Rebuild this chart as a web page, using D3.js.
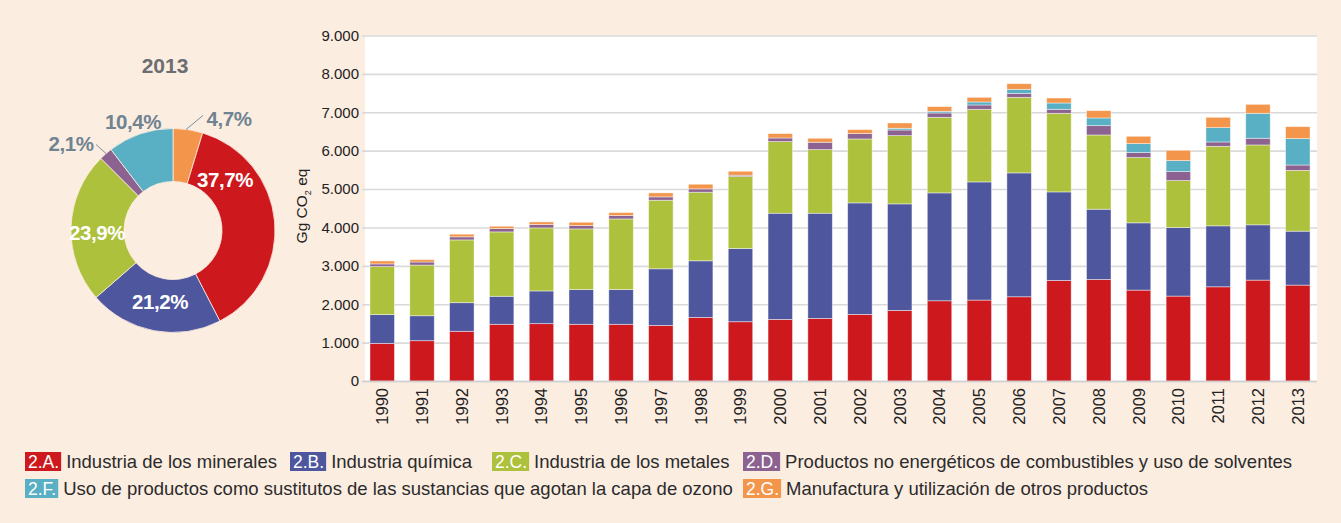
<!DOCTYPE html>
<html>
<head>
<meta charset="utf-8">
<script src="https://cdn.jsdelivr.net/npm/d3@7"></script>
<style>
  html, body { margin: 0; padding: 0; background: #fcede1; }
  svg { display: block; }
</style>
</head>
<body>
<svg id="chart" width="1341" height="523"></svg>
<script>
// Emisiones del sector IPPU, 1990-2013 (Gg CO2 eq)
const years = ["1990","1991","1992","1993","1994","1995","1996","1997","1998","1999","2000","2001",
               "2002","2003","2004","2005","2006","2007","2008","2009","2010","2011","2012","2013"];
const minerales  = [980,1050,1295,1477,1494,1477,1477,1448,1657,1544,1604,1630,1735,1839,2090,2108,2194,2619,2645,2368,2212,2454,2628,2498];
const quimica    = [750,650,745,730,852,904,904,1475,1474,1908,2767,2741,2905,2775,2810,3078,3227,2307,1830,1752,1786,1588,1440,1405];
const metales    = [1250,1320,1635,1677,1642,1581,1841,1786,1787,1873,1865,1657,1665,1778,1969,1891,1968,2047,1934,1700,1223,2072,2081,1584];
const productosNoEnerg = [70,80,80,86,87,87,87,87,86,35,95,191,139,147,113,113,104,104,243,130,234,113,174,139];
const sustitutos = [0,0,0,0,0,0,0,0,0,0,0,0,0,44,43,78,105,165,200,234,286,373,650,689];
const otros      = [78,60,70,61,69,87,78,104,122,104,113,104,104,139,122,121,147,130,190,191,269,269,234,311];

const yTicks = [0,1000,2000,3000,4000,5000,6000,7000,8000,9000];

// Participación 2013 (%)
const pieCodes  = ["2.G.","2.A.","2.B.","2.C.","2.D.","2.F."];
const pieShares = [4.7, 37.7, 21.2, 23.9, 2.1, 10.4];

const codes = ["2.A.","2.B.","2.C.","2.D.","2.F.","2.G."];
const names = ["Industria de los minerales","Industria química","Industria de los metales",
               "Productos no energéticos de combustibles y uso de solventes",
               "Uso de productos como sustitutos de las sustancias que agotan la capa de ozono",
               "Manufactura y utilización de otros productos"];
const colors = ["#cd181e","#4e569e","#adc13c","#8b6290","#59afc4","#f3964b"];

const series = [minerales, quimica, metales, productosNoEnerg, sustitutos, otros];
const colorOf = d3.scaleOrdinal().domain(codes).range(colors);

const svg = d3.select("#chart");
const W = 1341, H = 523;
svg.append("rect").attr("width", W).attr("height", H).attr("fill", "#fcede1");

const numFmt = d3.formatLocale({decimal: ",", thousands: ".", grouping: [3], currency: ["$",""]}).format(",d");
const FONT = "'Liberation Sans', Arial, sans-serif";

// ---- Stacked bars ----
const plot = {left: 365, right: 1317, top: 35.5, bottom: 381};
const x = d3.scaleBand().domain(years).range([plot.left - 1, plot.right - 1]).paddingInner(0.385).paddingOuter(0.15);
const y = d3.scaleLinear().domain([0, 9000]).range([plot.bottom, plot.top]);

svg.append("rect")
  .attr("x", plot.left).attr("y", plot.top)
  .attr("width", plot.right - plot.left).attr("height", plot.bottom - plot.top)
  .attr("fill", "#ffffff");

// grid + y axis
const yAxis = d3.axisLeft(y).tickValues(yTicks).tickFormat(numFmt)
  .tickSize(-(plot.right - plot.left + 3)).tickPadding(3);
const gy = svg.append("g").attr("transform", `translate(${plot.left - 3},0)`).call(yAxis);
gy.select(".domain").remove();
gy.selectAll(".tick line").attr("stroke", "#d9d9d9").attr("stroke-width", 1.6);
gy.selectAll(".tick text")
  .attr("fill", "#222")
  .style("font-family", FONT)
  .style("font-size", "15px");

const rows = years.map((yr, i) => {
  const r = {year: yr};
  codes.forEach((c, k) => r[c] = series[k][i]);
  return r;
});
const stacked = d3.stack().keys(codes)(rows);

svg.append("g").selectAll("g")
  .data(stacked).join("g")
  .attr("fill", d => colorOf(d.key))
  .selectAll("rect")
  .data(d => d).join("rect")
  .attr("x", d => x(d.data.year))
  .attr("y", d => y(d[1]))
  .attr("width", x.bandwidth())
  .attr("height", d => Math.max(0, y(d[0]) - y(d[1])))
  .attr("stroke", "rgba(255,255,255,0.55)")
  .attr("stroke-width", 0.8);

// baseline
svg.append("line")
  .attr("x1", plot.left - 3).attr("x2", plot.right)
  .attr("y1", plot.bottom + 0.5).attr("y2", plot.bottom + 0.5)
  .attr("stroke", "#cfcfcf").attr("stroke-width", 1.5);

// x axis (rotated years)
const gx = svg.append("g").attr("transform", `translate(0,${plot.bottom})`)
  .call(d3.axisBottom(x).tickSize(0).tickPadding(0));
gx.select(".domain").remove();
gx.selectAll(".tick text")
  .attr("transform", "rotate(-90)")
  .attr("x", -7).attr("y", 0).attr("dy", "0.36em")
  .style("text-anchor", "end")
  .attr("fill", "#222")
  .style("font-family", FONT)
  .style("font-size", "16.5px");

// y axis title
const yt = svg.append("text")
  .attr("transform", "translate(307,206) rotate(-90)")
  .attr("text-anchor", "middle")
  .attr("fill", "#222")
  .style("font-family", FONT)
  .style("font-size", "15.5px");
yt.append("tspan").text("Gg CO");
yt.append("tspan").attr("dy", 4).style("font-size", "9px").text("2");
yt.append("tspan").attr("dy", -4).text(" eq");

// ---- Donut 2013 ----
const cx = 173, cy = 230.5, rOut = 102, rIn = 49;
const pie = d3.pie().sort(null).value(d => d.v);
const arcs = pie(pieCodes.map((c, i) => ({code: c, v: pieShares[i]})));
const arc = d3.arc().innerRadius(rIn).outerRadius(rOut);
const donut = svg.append("g").attr("transform", `translate(${cx},${cy})`);
donut.selectAll("path").data(arcs).join("path")
  .attr("d", arc)
  .attr("fill", d => colorOf(d.data.code))
  .attr("stroke", "#fcede1").attr("stroke-width", 0.8);

svg.append("text").attr("x", 165).attr("y", 72.5)
  .attr("text-anchor", "middle").attr("fill", "#6d6e71")
  .style("font-family", FONT)
  .style("font-weight", "bold").style("font-size", "21px")
  .text("2013");

const pctFmt = v => d3.format(".1f")(v).replace(".", ",") + "%";
// label placement per slice: inside (white) or outside with leader line (grey)
const labelPos = {
  "2.A.": {dx: 52, dy: -44, inside: true},
  "2.B.": {dx: -13, dy: 78, inside: true},
  "2.C.": {dx: -76, dy: 9, inside: true},
  "2.D.": {dx: -102, dy: -80, inside: false, line: [[-77, -86], [-67, -77]]},
  "2.F.": {dx: -40, dy: -102, inside: false, line: null},
  "2.G.": {dx: 56, dy: -105, inside: false, line: [[13, -101], [30, -115]]}
};
arcs.forEach(a => {
  const p = labelPos[a.data.code];
  if (p.line) {
    donut.append("line")
      .attr("x1", p.line[0][0]).attr("y1", p.line[0][1])
      .attr("x2", p.line[1][0]).attr("y2", p.line[1][1])
      .attr("stroke", "#6f8391").attr("stroke-width", 0.9);
  }
  donut.append("text")
    .attr("x", p.dx).attr("y", p.dy)
    .attr("text-anchor", "middle")
    .attr("fill", p.inside ? "#ffffff" : "#6f8391")
    .style("font-family", FONT)
    .style("font-weight", "bold").style("font-size", "20.5px")
    .style("letter-spacing", "-0.4px")
    .text(pctFmt(a.data.v));
});

// ---- Legend ----
const legendLayout = [
  {x: 25, row: 0}, {x: 290, row: 0}, {x: 492, row: 0}, {x: 743, row: 0},
  {x: 25, row: 1}, {x: 743, row: 1}
];
const legend = svg.append("g");
codes.forEach((c, i) => {
  const L = legendLayout[i];
  const top = 452 + L.row * 27;
  const g = legend.append("g").attr("transform", `translate(${L.x},${top})`);
  const box = g.append("rect").attr("y", 0).attr("height", 19).attr("fill", colorOf(c));
  const t = g.append("text").attr("x", 3).attr("y", 15.5).attr("fill", "#ffffff")
    .style("font-family", FONT)
    .style("font-size", "17.5px").text(c);
  const bw = t.node().getComputedTextLength() + 5;
  box.attr("width", bw);
  g.append("text").attr("x", bw + 5).attr("y", 15.5).attr("fill", "#2b2b2b")
    .style("font-family", FONT)
    .style("font-size", "18.5px").text(names[i]);
});
</script>
</body>
</html>
